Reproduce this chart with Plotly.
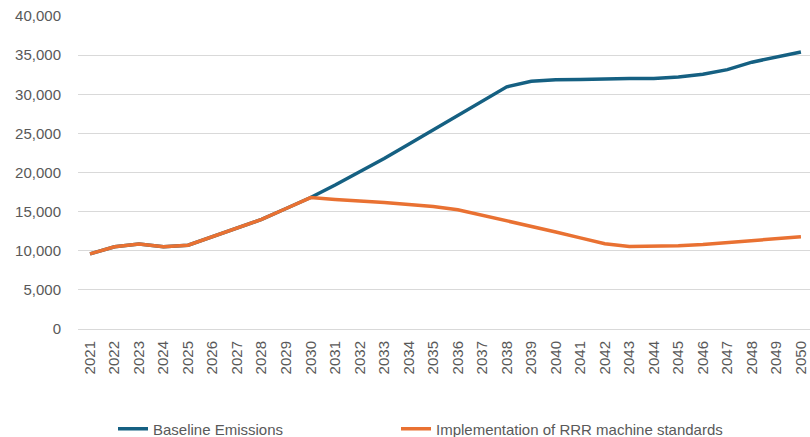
import plotly.graph_objects as go

# Years on the category axis
years = [str(y) for y in range(2021, 2051)]

# Emissions by scenario
baseline = [9600, 10500, 10850, 10500, 10700, 11800, 12800, 14000, 15400, 16800,
            18400, 20050, 21800, 23600, 25450, 27350, 29100, 30950, 31650, 31850,
            31900, 31980, 32000, 32000, 32200, 32550, 33150, 34100, 34750, 35400]
rrr_standards = [9600, 10500, 10850, 10500, 10700, 11800, 12800, 14000, 15400, 16800,
                 16550, 16420, 16180, 15900, 15650, 15250, 14550, 13900, 13150, 12400,
                 11650, 10900, 10550, 10550, 10650, 10800, 11050, 11320, 11560, 11780]

series_names = ["Baseline Emissions", "Implementation of RRR machine standards"]
y_ticks = [0, 5000, 10000, 15000, 20000, 25000, 30000, 35000, 40000]

BLUE = "#156082"
ORANGE = "#E97132"
GREY_TEXT = "#595959"
GRID = "#D9D9D9"
FONT = "Liberation Sans, Arial, sans-serif"

fig = go.Figure()
fig.add_trace(go.Scatter(x=years, y=baseline, name=series_names[0], mode="lines",
                         line=dict(color=BLUE, width=3.5), legend="legend"))
fig.add_trace(go.Scatter(x=years, y=rrr_standards, name=series_names[1], mode="lines",
                         line=dict(color=ORANGE, width=3.5), legend="legend2"))

legend_common = dict(
    orientation="h", xref="container", yref="container",
    xanchor="left", y=8 / 437, yanchor="middle",
    font=dict(family=FONT, size=15, color=GREY_TEXT),
    bgcolor="rgba(0,0,0,0)",
)

fig.update_layout(
    width=810, height=437,
    margin=dict(l=78, r=0, t=16, b=108),
    paper_bgcolor="white", plot_bgcolor="white",
    font=dict(family=FONT, size=15, color=GREY_TEXT),
    showlegend=True,
    legend=dict(x=113 / 810, **legend_common),
    legend2=dict(x=396 / 810, **legend_common),
    xaxis=dict(
        type="category", range=[-0.49, 29.37],
        tickangle=-90, showgrid=False, ticks="", showline=False,
        ticklabelstandoff=8,
        tickfont=dict(family=FONT, size=15, color=GREY_TEXT),
    ),
    yaxis=dict(
        range=[0, 40000], tickvals=y_ticks, tickformat=",",
        showgrid=True, gridcolor=GRID, gridwidth=1.4,
        zeroline=True, zerolinecolor=GRID, zerolinewidth=1.4,
        ticks="", ticklabelstandoff=16,
        tickfont=dict(family=FONT, size=15, color=GREY_TEXT),
    ),
)

fig.write_html("out.html")
